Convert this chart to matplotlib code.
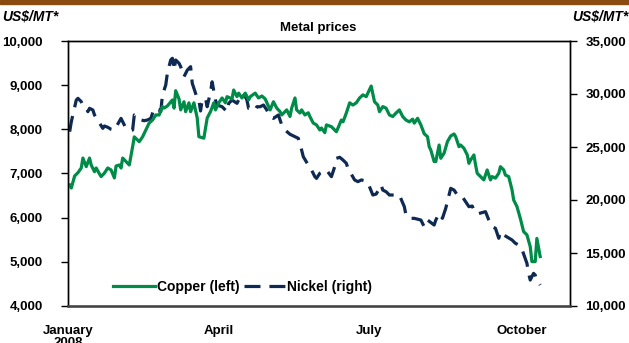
import matplotlib
matplotlib.use("Agg")
import matplotlib.pyplot as plt
from matplotlib.patches import Rectangle
from matplotlib.ticker import FuncFormatter
import pandas as pd

plt.rcParams['font.family'] = ['Liberation Sans', 'DejaVu Sans']
plt.rcParams['font.weight'] = 'bold'

# days counted from 1 January 2008
copper_days = [1, 2, 4, 6, 8, 9, 11, 13, 14, 16, 17, 19, 20, 22, 24, 26, 28, 29, 31, 32,
               33, 35, 37, 39, 40, 43, 45, 47, 49, 51, 53, 55, 57, 58, 60, 63, 64, 65, 67, 68,
               70, 71, 73, 74, 76, 78, 79, 82, 84, 86, 88, 89, 91, 93, 95, 96, 99, 100, 102, 103,
               105, 107, 109, 110, 113, 115, 117, 119, 122, 124, 126, 128, 129, 132, 134, 135, 137, 138, 140, 141,
               143, 145, 146, 148, 150, 152, 153, 155, 156, 159, 161, 162, 165, 166, 168, 170, 172, 174, 176, 178,
               180, 181, 183, 185, 187, 188, 190, 192, 194, 196, 198, 200, 202, 204, 206, 208, 209, 211, 213, 215,
               217, 218, 219, 221, 222, 224, 225, 227, 229, 231, 233, 234, 236, 237, 239, 241, 242, 243, 245, 246,
               247, 249, 251, 253, 255, 256, 258, 260, 261, 263, 264, 266, 268, 269, 271, 273, 275, 277, 279, 280,
               282, 283, 285]
copper_usd = [6740, 6672, 6943, 7018, 7125, 7350, 7155, 7350, 7193, 7040, 7125, 6990, 6930, 7010, 7125, 7080, 6900, 7170, 7193, 7125,
              7350, 7270, 7193, 7607, 7830, 7720, 7830, 7985, 8143, 8210, 8325, 8325, 8515, 8480, 8530, 8665, 8480, 8875, 8690, 8440,
              8625, 8400, 8600, 8400, 8600, 8255, 7833, 7800, 8255, 8400, 8600, 8440, 8600, 8710, 8600, 8740, 8690, 8890, 8740, 8820,
              8710, 8820, 8665, 8740, 8820, 8710, 8755, 8690, 8440, 8625, 8480, 8400, 8325, 8440, 8290, 8480, 8710, 8440, 8370, 8440,
              8325, 8375, 8290, 8143, 8100, 7985, 8030, 7925, 8100, 8060, 7985, 7945, 8210, 8170, 8370, 8600, 8550, 8600, 8710, 8780,
              8740, 8820, 8980, 8625, 8550, 8400, 8515, 8480, 8325, 8290, 8370, 8440, 8290, 8210, 8170, 8230, 8140, 8250, 8100, 7900,
              7833, 7607, 7530, 7270, 7270, 7645, 7345, 7460, 7720, 7850, 7895, 7833, 7607, 7645, 7570, 7420, 7230, 7305, 7420, 7193,
              7005, 6930, 6855, 7080, 6855, 6930, 6895, 7005, 7155, 7080, 6965, 6930, 6630, 6400, 6250, 5985, 5685, 5610, 5345, 5005,
              5005, 5530, 5120]

nickel_days = [1, 2, 5, 6, 8, 9, 11, 12, 13, 15, 16, 21, 22, 24, 26, 28, 32, 33, 35, 37,
               39, 40, 42, 44, 46, 48, 50, 52, 55, 56, 57, 59, 60, 62, 63, 64, 65, 67, 68, 70,
               72, 74, 75, 77, 78, 79, 80, 81, 83, 84, 86, 87, 88, 89, 90, 93, 96, 97, 99, 102,
               104, 106, 108, 109, 111, 113, 114, 116, 118, 120, 122, 124, 127, 129, 131, 134, 139, 141, 142, 145,
               146, 148, 149, 150, 152, 154, 156, 159, 161, 162, 164, 166, 168, 169, 173, 175, 177, 179, 181, 184,
               186, 188, 189, 190, 192, 194, 197, 200, 203, 204, 206, 209, 213, 215, 217, 221, 222, 224, 226, 228,
               229, 231, 233, 235, 236, 238, 242, 244, 245, 247, 252, 254, 256, 258, 260, 261, 263, 268, 270, 272,
               274, 277, 278, 279, 281, 282, 283, 285]
nickel_usd = [26445, 27390, 29430, 29590, 29275, 28960, 28650, 28330, 28650, 28490, 28020, 26760, 26980, 26860, 26670, 26600, 27700, 27390, 26760, 26600,
              26600, 28020, 27860, 27550, 27480, 27550, 27700, 28650, 28490, 28330, 29900, 30850, 32000, 33210, 33370, 32260, 33210, 32900, 32580, 31630,
              32250, 32580, 31010, 30070, 29590, 29430, 28400, 29430, 29590, 28800, 30200, 31150, 30300, 29430, 28960, 28800, 28330, 29120, 29430, 29120,
              29750, 30070, 29430, 28650, 28650, 28490, 28800, 28800, 28960, 28490, 27860, 27700, 28020, 27080, 26600, 26200, 25820, 24720, 24090, 23300,
              23150, 22520, 22200, 22040, 22520, 22670, 22830, 22200, 23150, 23930, 24030, 23770, 23460, 22990, 21890, 21730, 21890, 21820, 21630, 20470,
              20560, 21100, 21410, 20940, 20780, 20470, 20470, 20470, 19370, 18580, 18270, 18270, 18110, 17480, 18110, 17640, 18110, 18740, 18270, 19220,
              19840, 21100, 20940, 20470, 20310, 20310, 19370, 19430, 19060, 18680, 18900, 18110, 17480, 17330, 16390, 17010, 16700, 16230, 15920, 15760,
              15350, 14030, 13080, 12450, 13080, 12920, 12450, 11980]

month_ticks = ['2008-01-01', '2008-04-01', '2008-07-01', '2008-10-01']
month_labels = ['January\n2008', 'April', 'July', 'October']

copper_color = '#008C48'
nickel_color = '#0E2A52'

start = pd.Timestamp('2008-01-01')
copper_dates = start + pd.to_timedelta(copper_days, unit='D')
nickel_dates = start + pd.to_timedelta(nickel_days, unit='D')

fig = plt.figure(figsize=(6.29, 3.43), dpi=100)
# brown rule along the top edge
fig.patches.append(Rectangle((0, 1 - 4 / 343), 1, 4 / 343, transform=fig.transFigure,
                             color='#8B4A10', zorder=0))

ax = fig.add_axes([68 / 629, 1 - 306 / 343, (570 - 68) / 629, (306 - 41) / 343])
ax2 = ax.twinx()

l1, = ax.plot(copper_dates, copper_usd, color=copper_color, lw=2.3, solid_joinstyle='round')
l2, = ax2.plot(nickel_dates, nickel_usd, color=nickel_color, lw=2.3, dashes=(5, 2.8))
ax.set_zorder(ax2.get_zorder() + 1)
ax.patch.set_visible(False)

ax.set_ylim(4000, 10000)
ax.set_yticks(range(4000, 10001, 1000))
ax2.set_ylim(10000, 35000)
ax2.set_yticks(range(10000, 35001, 5000))
fmt = FuncFormatter(lambda v, p: f'{int(v):,}')
ax.yaxis.set_major_formatter(fmt)
ax2.yaxis.set_major_formatter(fmt)

ax.set_xlim(pd.Timestamp('2008-01-01'), pd.Timestamp('2008-10-30'))
ax.set_xticks(pd.to_datetime(month_ticks))
ax.set_xticklabels(month_labels, linespacing=1.0)

ax.tick_params(axis='y', direction='out', length=5, width=1, labelsize=9.5, pad=13)
ax2.tick_params(axis='y', direction='out', length=5, width=1, labelsize=9.5, pad=6)
ax.tick_params(axis='x', length=0, labelsize=9.5, pad=14)

for a in (ax, ax2):
    for s in a.spines.values():
        s.set_color('black')
        s.set_linewidth(1.0)
ax.spines['bottom'].set_color('#444444')
ax.spines['bottom'].set_linewidth(1.8)

fig.text(2 / 629, 1 - 16 / 343, 'US$/MT*', fontsize=10, fontstyle='italic',
         fontweight='bold', va='center', ha='left')
fig.text(628 / 629, 1 - 16 / 343, 'US$/MT*', fontsize=10, fontstyle='italic',
         fontweight='bold', va='center', ha='right')
fig.text(318 / 629, 1 - 28 / 343, 'Metal prices', fontsize=9.5, fontweight='bold',
         va='center', ha='center')

ax.legend([l1, l2], ['Copper (left)', 'Nickel (right)'], loc='lower left',
          bbox_to_anchor=(0.065, 0.0), ncol=2, frameon=False, fontsize=10,
          handlelength=3.0, handletextpad=0.15, columnspacing=0.3)

fig.savefig('out.png', dpi=100)
